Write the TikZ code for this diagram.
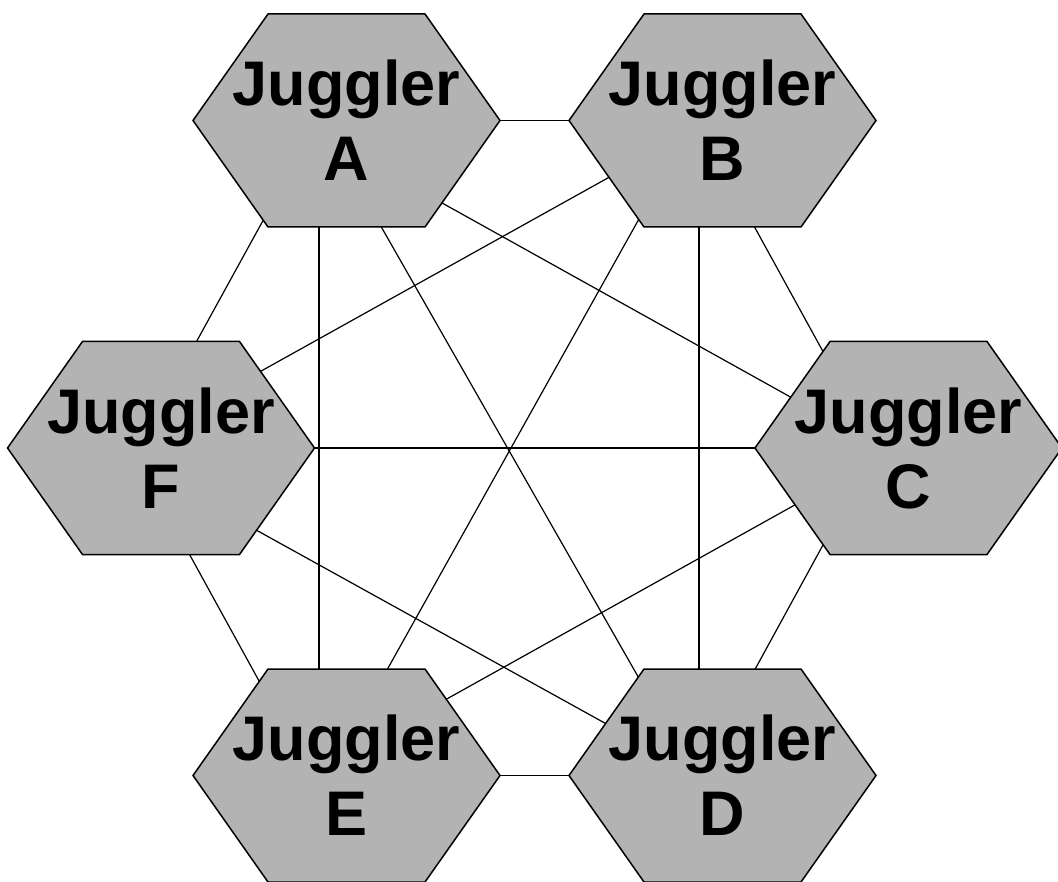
\documentclass[tikz,border=0pt]{standalone}
\usepackage{fontspec}
\setmainfont{Liberation Sans}
\usetikzlibrary{calc}
\definecolor{hexgray}{RGB}{179,179,179}
\pgfdeclarelayer{background}
\pgfsetlayers{background,main}
\tikzset{
  hexbox/.style={fill=hexgray, draw=black, line width=1.5pt, line join=miter},
  jlabel/.style={align=center, font=\bfseries\fontsize{63}{75}\selectfont, inner sep=0pt},
  link/.style={draw=black, line width=1.2pt},
}
\newcommand\hexshape[1]{\path[hexbox] (#1) ++(-153.5,0) -- ++(75,-106.5) -- ++(157,0) -- ++(75,106.5) -- ++(-75,106.5) -- ++(-157,0) -- cycle;}
\begin{document}
\begin{tikzpicture}[x=1pt,y=-1pt]
\useasboundingbox (0,0) rectangle (1058,882);
\clip (0,0) rectangle (1058,882);
\node[jlabel] (A) at (346.5,120.5) {Juggler\\A};
\node[jlabel] (B) at (722.5,120.5) {Juggler\\B};
\node[jlabel] (C) at (908.5,448) {Juggler\\C};
\node[jlabel] (D) at (722.5,775.5) {Juggler\\D};
\node[jlabel] (E) at (346.5,775.5) {Juggler\\E};
\node[jlabel] (F) at (161,448) {Juggler\\F};
\begin{pgfonlayer}{background}
  % connectors (hidden parts covered by the hexagons)
  \draw[link] (A.center) -- (B.center);
  \draw[link] (E.center) -- (D.center);
  \draw[link] (F.center) -- (C.center);
  \draw[link] ($(A.center)+(-27.5,0)$) -- ($(E.center)+(-27.5,0)$);
  \draw[link] ($(B.center)+(-23.5,0)$) -- ($(D.center)+(-23.5,0)$);
  \draw[link] ($(A.center)+(-26,0)$) -- ($(D.center)+(-28,0)$);
  \draw[link] ($(B.center)+(-28.5,0)$) -- ($(E.center)+(-18.5,0)$);
  \draw[link] ($(A.center)+(-52.5,0)$) -- ($(C.center)+(-26.5,0)$);
  \draw[link] ($(B.center)+(-11.5,0)$) -- ($(F.center)+(-38,0)$);
  \draw[link] ($(A.center)+(-28.5,0)$) -- ($(F.center)+(-23,0)$);
  \draw[link] ($(B.center)+(-26.5,0)$) -- ($(C.center)+(-32.5,0)$);
  \draw[link] ($(F.center)+(-53,0)$) -- ($(D.center)+(-23,0)$);
  \draw[link] ($(F.center)+(-30,0)$) -- ($(E.center)+(-35.5,0)$);
  \draw[link] ($(E.center)+(-37,0)$) -- ($(C.center)+(-11.5,0)$);
  \draw[link] ($(C.center)+(-32.5,0)$) -- ($(D.center)+(-25.5,0)$);
  % hexagons
  \hexshape{A.center}
  \hexshape{B.center}
  \hexshape{C.center}
  \hexshape{D.center}
  \hexshape{E.center}
  \hexshape{F.center}
\end{pgfonlayer}
\end{tikzpicture}
\end{document}
